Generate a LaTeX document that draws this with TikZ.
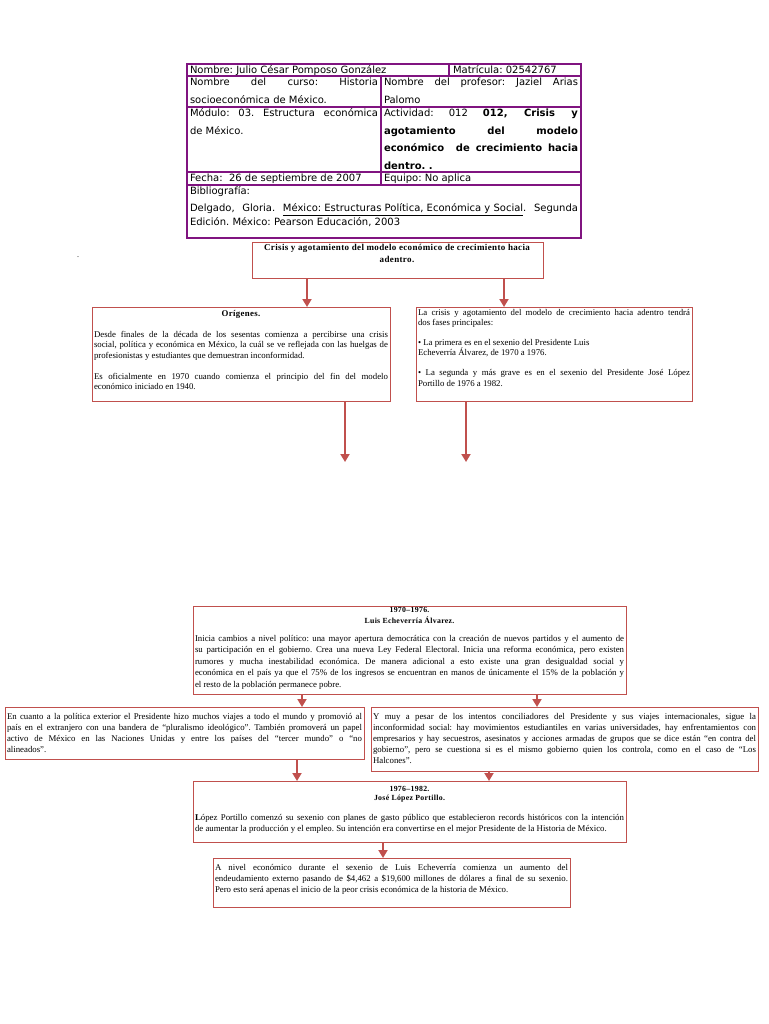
\documentclass[tikz,border=0pt]{standalone}
\usepackage{fontspec}
\setmainfont{Liberation Serif}
\newfontfamily\tblfont{DejaVu Sans}
\newfontfamily\titlefont[LetterSpace=4]{Liberation Serif}
\usetikzlibrary{arrows.meta}
\definecolor{boxred}{HTML}{C0504D}
\definecolor{tblpurple}{RGB}{128,20,128}
\tikzset{
  boxframe/.style={draw=boxred, line width=0.9pt, inner sep=0pt, outer sep=0pt, anchor=north west, rectangle},
  arr/.style={draw=boxred, line width=1.8pt, -{Triangle[width=9pt,length=8pt]}},
  tline/.style={draw=tblpurple, line width=1.2pt},
  txt/.style={anchor=base west, inner sep=0pt, outer sep=0pt},
}
\frenchspacing
\begin{document}
\begin{tikzpicture}[x=1pt,y=-1pt]
\fill[white] (0,0) rectangle (768,1024);
\useasboundingbox (0,0) rectangle (768,1024);

% ---------- table ----------
\node[tline, rectangle, anchor=north west, minimum width=394pt, minimum height=174pt, inner sep=0pt, outer sep=0pt] (tbl) at (187,64) {};
\draw[tline] (tbl.west |- 0,76) -- (tbl.east |- 0,76);
\draw[tline] (tbl.west |- 0,107) -- (tbl.east |- 0,107);
\draw[tline] (tbl.west |- 0,172) -- (tbl.east |- 0,172);
\draw[tline] (tbl.west |- 0,185) -- (tbl.east |- 0,185);
\draw[tline] (449,0 |- tbl.north) -- (449,76);
\draw[tline] (381,76) -- (381,185);

\node[txt] (c11) at (190,74) {\tblfont\fontsize{10}{12}\selectfont Nombre: Julio César Pomposo González};
\node[txt] (c12) at (453,74) {\tblfont\fontsize{10}{12}\selectfont Matrícula: 02542767};
\node[txt] (c21) at (190,86) {\parbox[t]{188pt}{\tblfont\fontsize{10}{18}\selectfont Nombre del curso: Historia\linebreak socioeconómica de México.}};
\node[txt] (c22) at (384,86) {\parbox[t]{194pt}{\tblfont\fontsize{10}{18}\selectfont Nombre del profesor: Jaziel Arias\linebreak Palomo}};
\node[txt] (c31) at (190,117) {\parbox[t]{188pt}{\tblfont\fontsize{10}{17.5}\selectfont Módulo: 03. Estructura económica\linebreak de México.}};
\node[txt] (c32) at (384,117) {\parbox[t]{194pt}{\tblfont\fontsize{10}{17.5}\selectfont Actividad: 012 \textbf{012, Crisis y}\linebreak \textbf{agotamiento del modelo}\linebreak \textbf{económico\ \ de crecimiento hacia}\linebreak \textbf{dentro. .}}};
\node[txt] (c41) at (190,182) {\tblfont\fontsize{10}{12}\selectfont Fecha:\ \ 26 de septiembre de 2007};
\node[txt] (c42) at (384,182) {\tblfont\fontsize{10}{12}\selectfont Equipo: No aplica};
\node[txt] (c5) at (190,195) {\parbox[t]{388pt}{\tblfont\fontsize{10}{12}\selectfont Bibliografía:\\[5pt]Delgado, Gloria. \underline{México: Estructuras Política, Económica y Social}. Segunda\linebreak Edición. México: Pearson Educación, 2003}};

\node[inner sep=0pt, anchor=base] (dot) at (78,258) {\fontsize{8}{10}\selectfont .};

% ---------- title box ----------
\node[boxframe, minimum width=291pt, minimum height=36pt] (T) at (252,242) {};
\node[anchor=base, inner sep=0pt] (T-t) at (397,251) {\parbox[t]{290pt}{\centering\titlefont\bfseries\fontsize{9}{12}\selectfont Crisis y agotamiento del modelo económico de crecimiento hacia\\ adentro.}};

% ---------- Orígenes ----------
\node[boxframe, minimum width=298pt, minimum height=94pt] (O) at (92,307) {};
\node[txt] (O-t) at (94,316) {\parbox[t]{294pt}{\fontsize{8.8}{10.5}\selectfont\setlength{\parskip}{10.5pt}{\centering\titlefont\bfseries Orígenes.\par}Desde finales de la década de los sesentas comienza a percibirse una crisis\linebreak social, política y económica en México, la cuál se ve reflejada con las huelgas de\linebreak profesionistas y estudiantes que demuestran inconformidad.\par Es oficialmente en 1970 cuando comienza el principio del fin del modelo\linebreak económico iniciado en 1940.}};

% ---------- fases ----------
\node[boxframe, minimum width=276pt, minimum height=94pt] (R) at (416,307) {};
\node[txt] (R-t) at (418,315) {\parbox[t]{272pt}{\fontsize{8.8}{10.8}\selectfont\setlength{\parskip}{8.5pt}La crisis y agotamiento del modelo de crecimiento hacia adentro tendrá\linebreak dos fases principales:\par • La primera es en el sexenio del Presidente Luis\\ Echeverría Álvarez, de 1970 a 1976.\par • La segunda y más grave es en el sexenio del Presidente José López\linebreak Portillo de 1976 a 1982.}};

\draw[arr] (307,0 |- T.south) -- (307,0 |- O.north);
\draw[arr] (504,0 |- T.south) -- (504,0 |- R.north);
\coordinate (Oend) at (345,462);
\coordinate (Rend) at (466,462);
\draw[arr] (345,0 |- O.south) -- (Oend);
\draw[arr] (466,0 |- R.south) -- (Rend);

% ---------- 1970-1976 ----------
\node[boxframe, minimum width=433pt, minimum height=88pt] (B1) at (193,606) {};
\node[txt] (B1-t) at (195,612) {\parbox[t]{429pt}{\fontsize{8.8}{11.5}\selectfont{\centering\titlefont\bfseries\fontsize{7.8}{11}\selectfont 1970–1976.\\Luis Echeverría Álvarez.\par}\vspace{6.5pt}Inicia cambios a nivel político: una mayor apertura democrática con la creación de nuevos partidos y el aumento de\linebreak su participación en el gobierno. Crea una nueva Ley Federal Electoral. Inicia una reforma económica, pero existen\linebreak rumores y mucha inestabilidad económica. De manera adicional a esto existe una gran desigualdad social y\linebreak económica en el país ya que el 75\% de los ingresos se encuentran en manos de únicamente el 15\% de la población y\linebreak el resto de la población permanece pobre.}};

% ---------- left ----------
\node[boxframe, minimum width=359pt, minimum height=52pt] (L) at (5,707) {};
\node[txt] (L-t) at (7,719) {\parbox[t]{355pt}{\fontsize{8.8}{11}\selectfont En cuanto a la política exterior el Presidente hizo muchos viajes a todo el mundo y promovió al\linebreak país en el extranjero con una bandera de “pluralismo ideológico”. También promoverá un papel\linebreak activo de México en las Naciones Unidas y entre los países del “tercer mundo” o “no\linebreak alineados”.}};

% ---------- right ----------
\node[boxframe, minimum width=387pt, minimum height=64pt] (RR) at (371,707) {};
\node[txt] (RR-t) at (373,719) {\parbox[t]{383pt}{\fontsize{8.8}{11}\selectfont Y muy a pesar de los intentos conciliadores del Presidente y sus viajes internacionales, sigue la\linebreak inconformidad social: hay movimientos estudiantiles en varias universidades, hay enfrentamientos con\linebreak empresarios y hay secuestros, asesinatos y acciones armadas de grupos que se dice están “en contra del\linebreak gobierno”, pero se cuestiona si es el mismo gobierno quien los controla, como en el caso de “Los\linebreak Halcones”.}};

\draw[arr] (302,0 |- B1.south) -- (302,0 |- L.north);
\draw[arr] (537,0 |- B1.south) -- (537,0 |- RR.north);

% ---------- 1976-1982 ----------
\node[boxframe, minimum width=433pt, minimum height=61pt] (B2) at (193,781) {};
\node[txt] (B2-t) at (195,791) {\parbox[t]{429pt}{\fontsize{8.8}{11}\selectfont{\centering\titlefont\bfseries\fontsize{7.8}{9}\selectfont 1976–1982.\\José López Portillo.\par}\vspace{9pt}\textbf{L}ópez Portillo comenzó su sexenio con planes de gasto público que establecieron records históricos con la intención\linebreak de aumentar la producción y el empleo. Su intención era convertirse en el mejor Presidente de la Historia de México.}};

\draw[arr] (297,0 |- L.south) -- (297,0 |- B2.north);
\draw[arr] (489,0 |- RR.south) -- (489,0 |- B2.north);

% ---------- last ----------
\node[boxframe, minimum width=357pt, minimum height=49pt] (E) at (213,858) {};
\node[txt] (E-t) at (215,870) {\parbox[t]{353pt}{\fontsize{8.8}{11}\selectfont A nivel económico durante el sexenio de Luis Echeverría comienza un aumento del\linebreak endeudamiento externo pasando de \$4,462 a \$19,600 millones de dólares a final de su sexenio.\linebreak Pero esto será apenas el inicio de la peor crisis económica de la historia de México.}};

\draw[arr] (383,0 |- B2.south) -- (383,0 |- E.north);
\end{tikzpicture}
\end{document}
